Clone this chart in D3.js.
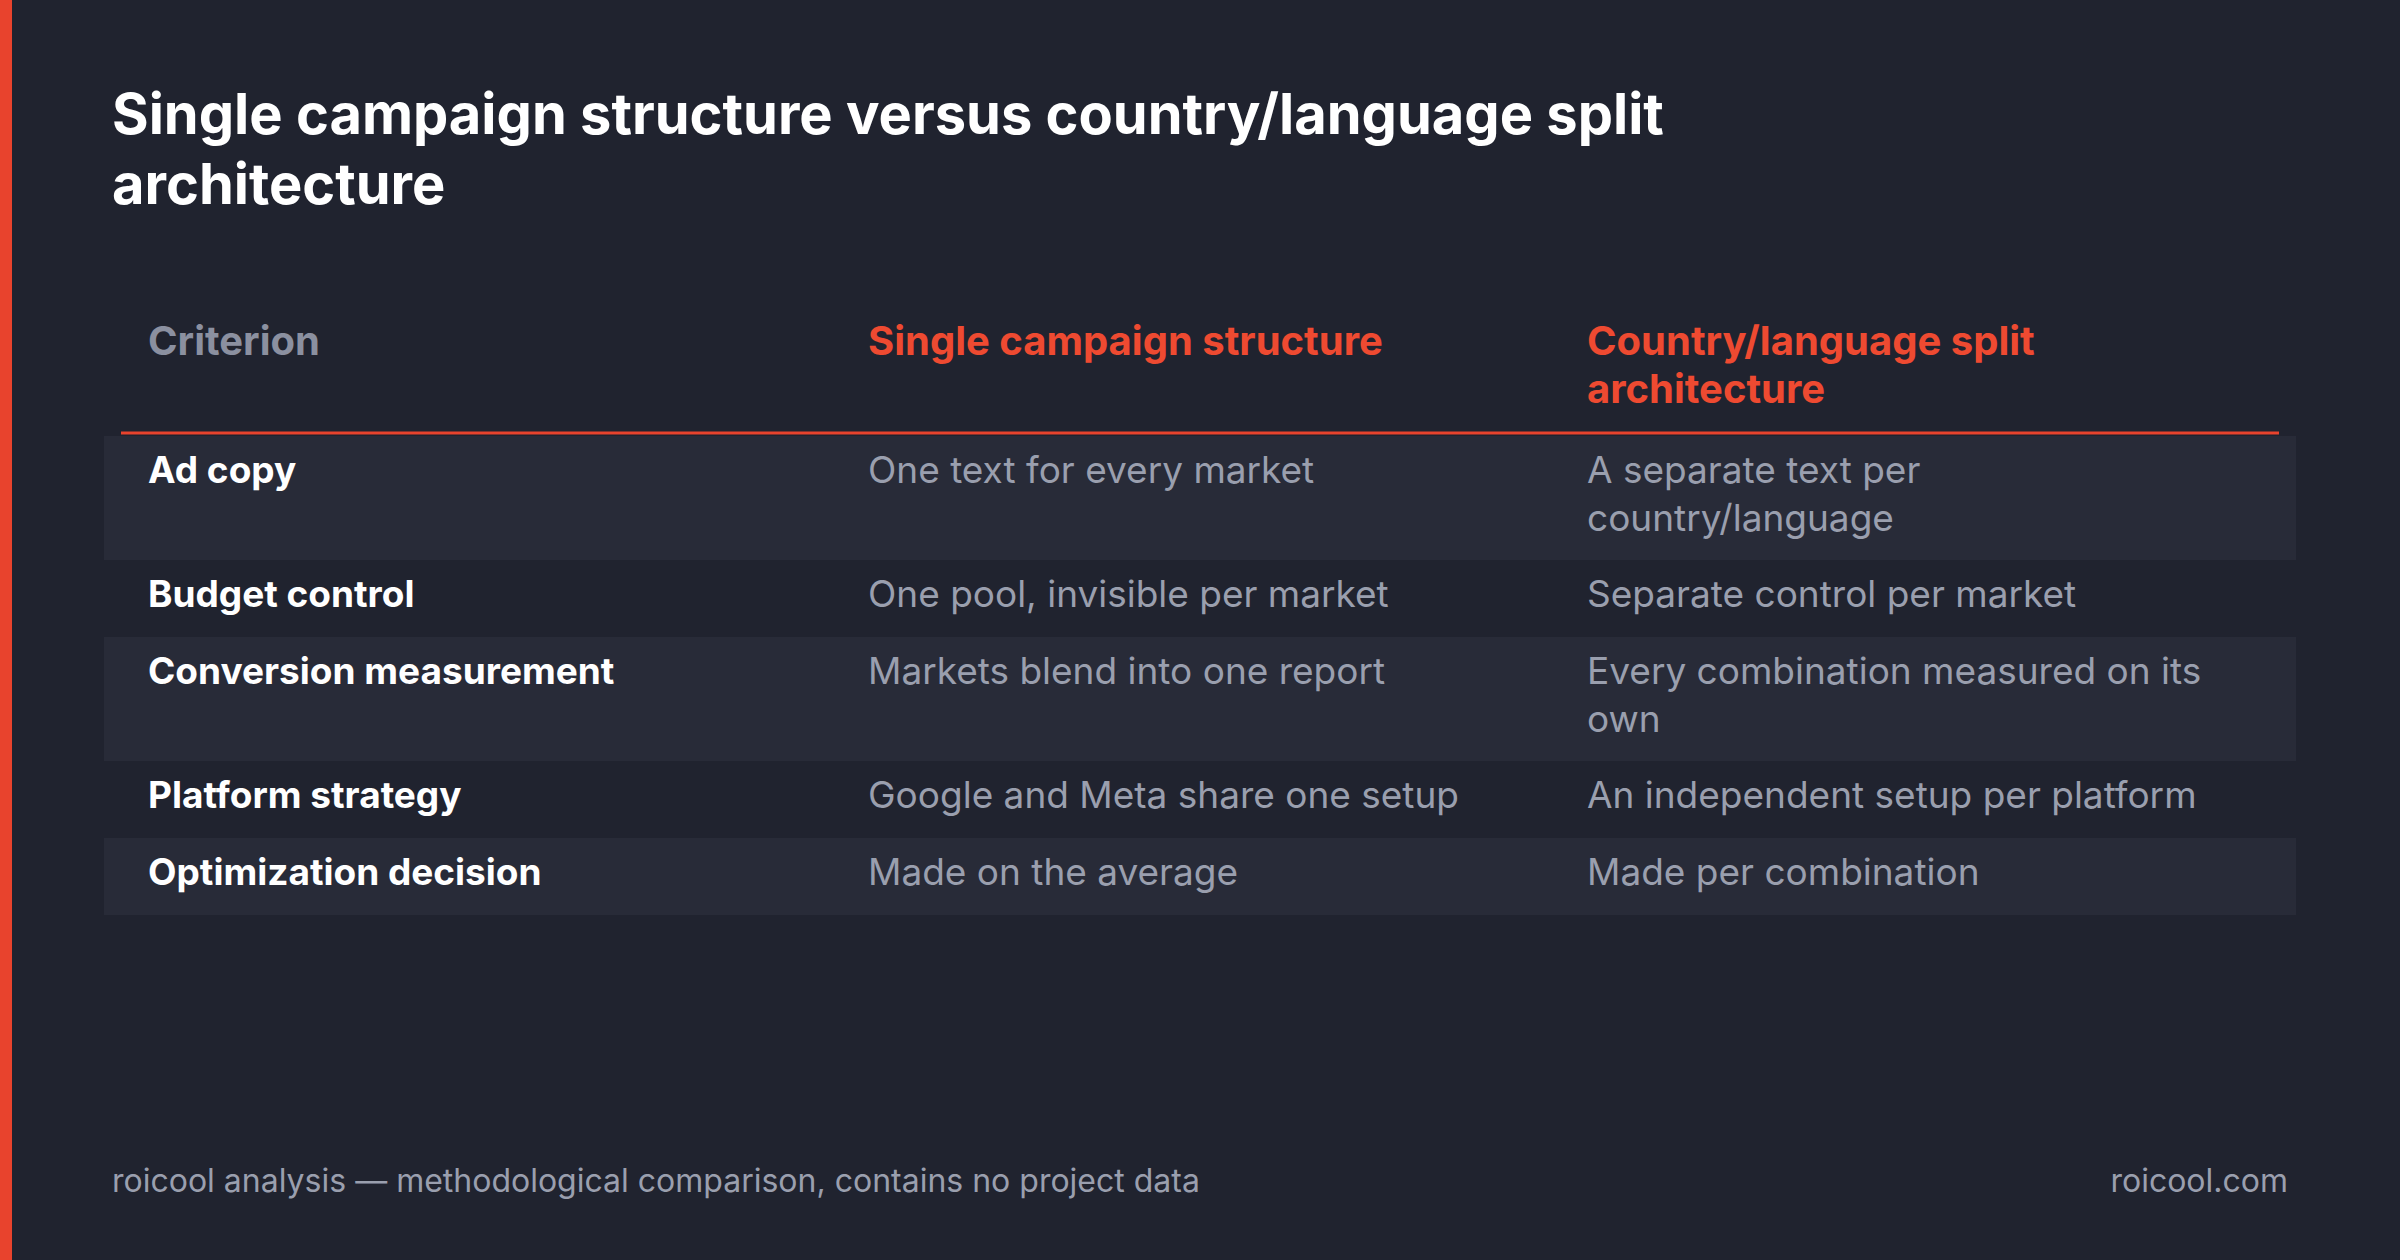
<!DOCTYPE html>
<html><head><meta charset="utf-8">
<script src="https://cdn.jsdelivr.net/npm/d3@7"></script>
<style>body{margin:0;background:#20232f;}svg{display:block;font-family:Inter,"Noto Sans",sans-serif;}</style>
</head><body>
<script>
var titleLines = ["Single campaign structure versus country/language split", "architecture"];
var headers = [["Criterion"], ["Single campaign structure"], ["Country/language split", "architecture"]];
var criteria = ["Ad copy", "Budget control", "Conversion measurement", "Platform strategy", "Optimization decision"];
var singleCol = [["One text for every market"], ["One pool, invisible per market"], ["Markets blend into one report"], ["Google and Meta share one setup"], ["Made on the average"]];
var splitCol = [["A separate text per", "country/language"], ["Separate control per market"], ["Every combination measured on its", "own"], ["An independent setup per platform"], ["Made per combination"]];
var footLeft = "roicool analysis \u2014 methodological comparison, contains no project data";
var footRight = "roicool.com";

var width = 2400, height = 1260;
var svg = d3.select("body").append("svg").attr("width", width).attr("height", height);
svg.append("rect").attr("width", width).attr("height", height).attr("fill", "#20232f");
svg.append("rect").attr("width", 12).attr("height", height).attr("fill", "#e8432d");

svg.selectAll(".title").data(titleLines).enter().append("text")
    .attr("x", 112).attr("y", function (d, i) { return 134 + i * 70; })
    .attr("fill", "#ffffff").attr("font-size", 56).attr("font-weight", 700).text(function (d) { return d; });

var colX = [148, 868, 1587];
var lineH = 48;
// row heights depend on number of lines
var rows = criteria.map(function (c, i) {
    return { c: c, a: singleCol[i], b: splitCol[i], n: Math.max(singleCol[i].length, splitCol[i].length) };
});
var rowY = 436;
rows.forEach(function (r) { r.y = rowY; r.h = r.n === 2 ? 124 : 77; rowY += r.h; });

headers.forEach(function (h, i) {
    svg.append("text").attr("x", colX[i]).attr("y", 355)
        .attr("fill", i === 0 ? "#8b90a0" : "#ee4a31").attr("font-size", 40).attr("font-weight", 700)
        .selectAll("tspan").data(h).enter().append("tspan")
        .attr("x", colX[i]).attr("dy", function (d, j) { return j ? lineH : 0; }).text(function (d) { return d; });
});

svg.append("g").selectAll("rect").data(rows).enter().append("rect")
    .attr("x", 104).attr("width", 2192).attr("y", function (d) { return d.y; }).attr("height", function (d) { return d.h; })
    .attr("fill", function (d, i) { return i % 2 === 0 ? "#282b38" : "#20232f"; });
svg.append("line").attr("x1", 121).attr("x2", 2279).attr("y1", 433).attr("y2", 433)
    .attr("stroke", "#e8432d").attr("stroke-width", 3);

rows.forEach(function (r) {
    var cells = [[r.c], r.a, r.b];
    cells.forEach(function (lines, i) {
        svg.append("text").attr("y", r.y + 47)
            .attr("fill", i === 0 ? "#ffffff" : "#9a9fae").attr("font-size", 37).attr("font-weight", i === 0 ? 700 : 400)
            .selectAll("tspan").data(lines).enter().append("tspan")
            .attr("x", colX[i]).attr("dy", function (d, j) { return j ? lineH : 0; }).text(function (d) { return d; });
    });
});

svg.append("text").attr("x", 112).attr("y", 1192).attr("fill", "#9a9fae").attr("font-size", 32).text(footLeft);
svg.append("text").attr("x", 2288).attr("y", 1192).attr("text-anchor", "end").attr("fill", "#9a9fae").attr("font-size", 32).text(footRight);
</script>
</body></html>
